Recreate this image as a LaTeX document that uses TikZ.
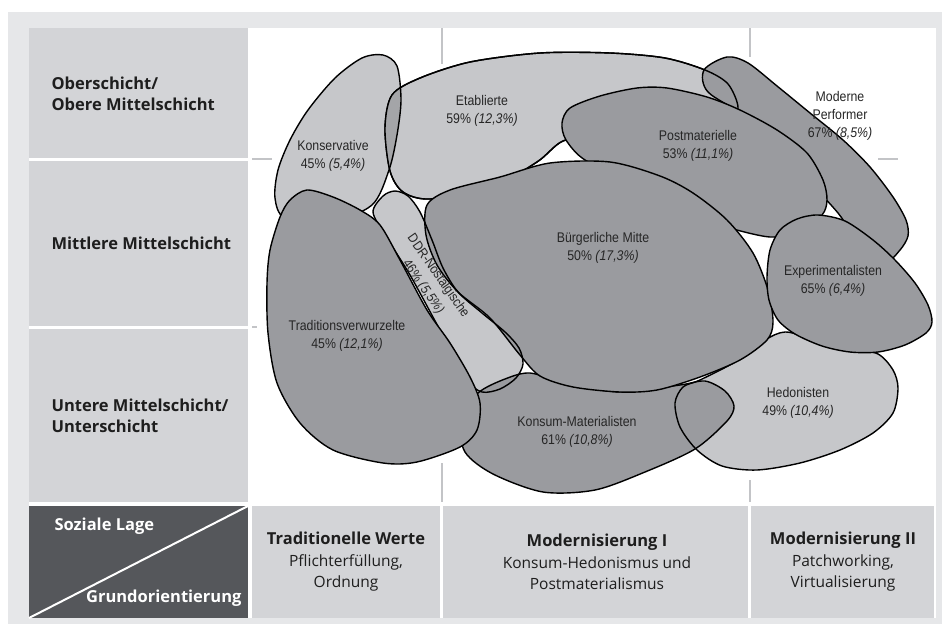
\documentclass[tikz,border=0pt]{standalone}
\usepackage{fontspec}
\setmainfont{Open Sans}
\newfontfamily\blobfont{Liberation Sans}[FakeStretch=0.88]
\definecolor{outerbg}{HTML}{E6E7E9}
\definecolor{cellbg}{HTML}{D3D4D7}
\definecolor{darkcell}{HTML}{55575B}
\definecolor{lightblob}{HTML}{C6C7CA}
\definecolor{darkblob}{HTML}{9A9B9F}
\definecolor{overlapblob}{HTML}{A4A5A8}
\definecolor{tickgray}{HTML}{C3C4C7}
\definecolor{labeltext}{HTML}{1E1E1E}
\begin{document}
\begin{tikzpicture}[x=1pt,y=-1pt,
  outline/.style={draw=black,line width=1.4pt,line join=round},
  lightfill/.style={fill=lightblob},
  darkfill/.style={fill=darkblob},
  tick/.style={draw=tickgray,line width=2.2pt},
  rowlabel/.style={anchor=west,align=left,text=labeltext,font=\fontsize{16.5}{21.5}\selectfont\bfseries},
  collabel/.style={align=center,text=labeltext,font=\fontsize{15.5}{21.5}\selectfont},
  bloblabel/.style={align=center,text=black!85,font=\blobfont\fontsize{14}{18}\selectfont},
  ddrlabel/.style={text=black!85,font=\blobfont\fontsize{13.5}{16}\selectfont,rotate=-55,inner sep=0pt}]
\useasboundingbox (0,0) rectangle (942,624);
% background and grid panel
\fill[white] (0,0) rectangle (942,624);
\fill[outerbg] (8,12) rectangle (942,624);
\fill[white] (29,28) rectangle (936,618);
\fill[cellbg] (29,28) rectangle (248,158);
\fill[cellbg] (29,161) rectangle (248,326);
\fill[cellbg] (29,329) rectangle (248,502);
\fill[darkcell] (29,506) rectangle (248,618);
\fill[cellbg] (252,506) rectangle (440,618);
\fill[cellbg] (443,506) rectangle (748,618);
\fill[cellbg] (751,506) rectangle (934,618);
\draw[white,line width=2pt] (29,618) -- (248,506);
% grid ticks
\draw[tick] (442,28) -- (442,64);
\draw[tick] (750,28) -- (750,57);
\draw[tick] (252,159) -- (272,159);
\draw[tick] (878,159) -- (898,159);
\draw[tick] (252,327) -- (257,327);
\draw[tick] (442,463) -- (442,502);
\draw[tick] (750,480) -- (750,502);
% blob paths
\def\pKons{plot[smooth cycle] coordinates {(383,55) (397,66) (401,100) (397,135) (389,170) (372,205) (330,222) (285,218) (275,198) (278,170) (290,140) (308,110) (335,78) (362,58)}}
\def\pEtab{plot[smooth cycle] coordinates {(385,128) (392,95) (420,78) (470,62) (540,53) (610,53) (665,58) (705,70) (728,84) (738,108) (725,120) (660,128) (600,135) (563,141) (537,162) (490,188) (430,199) (403,192) (390,171)}}
\def\pMod{plot[smooth cycle] coordinates {(727,57) (748,63) (777,86) (810,113) (843,140) (870,167) (893,197) (906,220) (908,236) (900,250) (885,262) (860,245) (838,213) (800,172) (750,120) (708,92) (704,70)}}
\def\pPost{plot[smooth cycle] coordinates {(562,123) (570,108) (600,96) (637,88) (667,88) (707,97) (740,110) (777,130) (807,153) (823,180) (827,200) (822,215) (800,230) (770,237) (720,225) (690,210) (630,180) (585,160) (566,140)}}
\def\pHed{plot[smooth cycle] coordinates {(700,380) (735,362) (765,340) (785,332) (810,338) (850,348) (878,354) (893,370) (898,388) (893,413) (873,433) (840,450) (800,463) (757,470) (722,466) (697,450) (680,427) (675,403) (683,387)}}
\def\pDDR{plot[smooth cycle] coordinates {(373,212) (383,196) (395,191) (408,196) (420,212) (432,240) (443,268) (458,292) (482,313) (505,332) (519,348) (523,364) (516,378) (500,389) (482,392) (468,380) (440,330) (410,275) (385,235)}}
\def\pKonsum{plot[smooth cycle] coordinates {(478,393) (505,379) (530,373) (565,383) (620,392) (680,385) (705,381) (725,391) (734,406) (727,421) (695,449) (645,472) (595,490) (543,492) (493,474) (465,452) (460,420)}}
\def\pBuerg{plot[smooth cycle] coordinates {(427,205) (450,190) (500,177) (550,163) (610,162) (660,176) (693,193) (727,220) (753,253) (768,290) (773,322) (767,340) (740,360) (700,377) (657,390) (620,392) (573,387) (540,376) (520,355) (490,318) (458,292) (437,265) (426,235)}}
\def\pExp{plot[smooth cycle] coordinates {(767,277) (770,250) (780,230) (797,219) (818,215) (845,221) (873,240) (895,260) (915,283) (928,305) (932,322) (926,333) (905,345) (878,352) (850,352) (822,346) (795,334) (778,320) (769,300)}}
\def\pTrad{plot[smooth cycle] coordinates {(307,190) (333,197) (360,210) (380,225) (400,260) (427,310) (450,343) (470,377) (480,403) (477,430) (460,447) (417,462) (383,463) (333,450) (300,423) (277,383) (268,333) (267,283) (270,250) (280,217) (290,200)}}
% blobs back to front
\path[lightfill,outline] \pKons;
\path[lightfill,outline] \pEtab;
\begin{scope}
  \clip \pEtab;
  \path[fill=overlapblob,outline] \pKons;
\end{scope}
\path[outline] \pEtab;
\path[darkfill,outline] \pMod;
\begin{scope}
  \clip \pMod;
  \path[outline] \pEtab;
\end{scope}
\path[darkfill,outline] \pPost;
\path[lightfill,outline] \pHed;
\path[lightfill,outline] \pDDR;
\path[darkfill,outline] \pKonsum;
\begin{scope}
  \clip \pKonsum;
  \path[outline] \pDDR;
  \path[outline] \pHed;
\end{scope}
\path[darkfill,outline] \pBuerg;
\begin{scope}
  \clip \pBuerg;
  \path[outline] \pDDR;
\end{scope}
\path[darkfill,outline] \pExp;
\path[darkfill,outline] \pTrad;
% blob labels
\node[bloblabel] (kons) at (333,156) {Konservative\\45\% \textit{(5,4\%)}};
\node[bloblabel] (etab) at (482,111) {Etablierte\\59\% \textit{(12,3\%)}};
\node[bloblabel] (post) at (698,146) {Postmaterielle\\53\% \textit{(11,1\%)}};
\node[bloblabel] (mod) at (840,116) {Moderne\\Performer\\67\% \textit{(8,5\%)}};
\node[bloblabel] (buerg) at (603,248) {Bürgerliche Mitte\\50\% \textit{(17,3\%)}};
\node[bloblabel] (exp) at (833,281) {Experimentalisten\\65\% \textit{(6,4\%)}};
\node[bloblabel] (trad) at (347,336) {Traditionsverwurzelte\\45\% \textit{(12,1\%)}};
\node[ddrlabel] (ddr1) at (438,276) {DDR-Nostalgische};
\node[ddrlabel] (ddr2) at (423,287) {46\% \textit{(5,5\%)}};
\node[bloblabel] (hed) at (798,403) {Hedonisten\\49\% \textit{(10,4\%)}};
\node[bloblabel] (konsum) at (577,432) {Konsum-Materialisten\\61\% \textit{(10,8\%)}};
% row labels
\node[rowlabel] (r1) at (48,94) {Oberschicht/\\Obere Mittelschicht};
\node[rowlabel] (r2) at (48,243) {Mittlere Mittelschicht};
\node[rowlabel] (r3) at (48,416) {Untere Mittelschicht/\\Unterschicht};
\node[rowlabel,text=white] (soz) at (51,526) {Soziale Lage};
\node[rowlabel,anchor=east,text=white] (grund) at (245,598) {Grundorientierung};
% column labels
\node[collabel] (c1) at (346,562) {{\fontsize{16.5}{21.5}\selectfont\bfseries Traditionelle Werte}\\Pflichterfüllung,\\Ordnung};
\node[collabel] (c2) at (597,562) {{\fontsize{16.5}{21.5}\selectfont\bfseries Modernisierung I}\\Konsum-Hedonismus und\\Postmaterialismus};
\node[collabel] (c3) at (843,562) {{\fontsize{16.5}{21.5}\selectfont\bfseries Modernisierung II}\\Patchworking,\\Virtualisierung};
\end{tikzpicture}
\end{document}
